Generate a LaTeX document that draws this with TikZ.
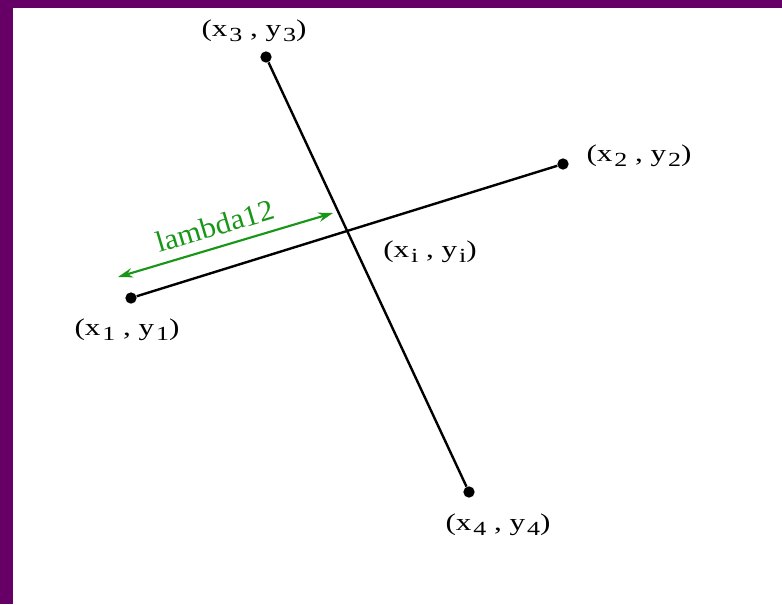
\documentclass[tikz,border=0pt]{standalone}
\usepackage{fontspec}
\setmainfont{Liberation Serif}
\usetikzlibrary{arrows.meta}

\definecolor{framepurple}{RGB}{102,0,102}
\definecolor{lamgreen}{RGB}{24,150,24}

% low, large subscript as in the original
\newcommand{\lowsub}[1]{\kern1pt\raisebox{-0.45ex}{\fontsize{15}{15}\selectfont #1}}
% point label, stretched like the original
\newcommand{\ptlabel}[1]{\scalebox{1.3}[1]{(x\lowsub{#1} , y\lowsub{#1})}}

\tikzset{
  dot/.style={circle,fill=black,inner sep=0pt,minimum size=8.5pt},
  seg/.style={line width=1.8pt},
  ptname/.style={inner sep=0.75pt,font=\fontsize{18}{21}\selectfont},
  lamarrow/.style={color=lamgreen,line width=1.6pt,{Stealth[length=11pt,width=7pt]}-{Stealth[length=11pt,width=7pt]}},
  lamtext/.style={inner sep=0.75pt,text=lamgreen,font=\fontsize{22}{26}\selectfont}
}

\begin{document}
\begin{tikzpicture}[x=0.75pt,y=0.75pt,yscale=-1,xscale=1]
\useasboundingbox (0,0) rectangle (782,604);

%Frame
\fill [framepurple] (0,0) rectangle (782,8);
\fill [framepurple] (0,0) rectangle (13,604);

%End points
\node [dot] (p1) at (131,298) {};
\node [dot] (p2) at (563,164) {};
\node [dot] (p3) at (266,57) {};
\node [dot] (p4) at (469,492) {};
\coordinate (pi) at (intersection of p1--p2 and p3--p4);

%Segments
\draw [seg] (p1) -- (p2);
\draw [seg] (p3) -- (p4);

%Distance arrow
\coordinate (lama) at (118,277);
\coordinate (lamb) at (333,213);
\draw [lamarrow] (lama) -- (lamb);
\node [lamtext,rotate=16.6] (lamlbl) at (215,226) {\scalebox{1.05}[1]{lambda12}};

% Text Node
\node [ptname] (l1) at (127,330) {\ptlabel{1}};
\node [ptname] (l2) at (639,156) {\ptlabel{2}};
\node [ptname] (l3) at (254,31) {\ptlabel{3}};
\node [ptname] (l4) at (498,525) {\ptlabel{4}};
\node [ptname] (li) at (430,252) {\ptlabel{i}};

\end{tikzpicture}
\end{document}
